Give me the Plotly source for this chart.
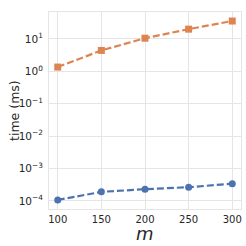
import plotly.graph_objects as go
import numpy as np

m_vals = [100, 150, 200, 250, 300]
time_blue = [1.07e-4, 1.9e-4, 2.3e-4, 2.64e-4, 3.4e-4]
time_orange = [1.35, 4.4, 10.5, 20.0, 35.6]
x_ticks = [100, 150, 200, 250, 300]
y_tickvals = [1e-4, 1e-3, 1e-2, 1e-1, 1e0, 1e1]
y_ticktext = ["10<sup>−4</sup>", "10<sup>−3</sup>", "10<sup>−2</sup>", "10<sup>−1</sup>", "10<sup>0</sup>", "10<sup>1</sup>"]

fig = go.Figure()
fig.add_trace(go.Scatter(x=m_vals, y=time_blue, mode="lines+markers",
                         line=dict(color="#4c72b0", dash="7px,3px", width=2.2),
                         marker=dict(symbol="circle", size=7, color="#4c72b0")))
fig.add_trace(go.Scatter(x=m_vals, y=time_orange, mode="lines+markers",
                         line=dict(color="#dd8452", dash="7px,3px", width=2.2),
                         marker=dict(symbol="square", size=7, color="#dd8452")))

fig.update_layout(
    width=246, height=246,
    margin=dict(l=49, r=5, t=12, b=37, autoexpand=False),
    paper_bgcolor="white", plot_bgcolor="white",
    showlegend=False,
    font=dict(family="DejaVu Sans", color="#262626", size=10),
    annotations=[
        dict(text="<i>m</i>", x=0.5, y=-0.125, xref="paper", yref="paper",
             xanchor="center", yanchor="middle", showarrow=False, font=dict(size=18)),
        dict(text="time (ms)", x=-0.18, y=0.5, xref="paper", yref="paper",
             xanchor="center", yanchor="middle", textangle=-90, showarrow=False,
             font=dict(size=12.5)),
    ],
)
fig.update_xaxes(range=[90, 310], tickvals=x_ticks, showgrid=True, gridcolor="#e5e5e5",
                 showline=True, linecolor="#e5e5e5", mirror=True, ticks="", zeroline=False,
                 automargin=False, ticklabelstandoff=1, tickfont=dict(size=10))
fig.update_yaxes(type="log", range=[-4.25, 1.83], tickvals=y_tickvals, ticktext=y_ticktext,
                 showgrid=True, gridcolor="#e5e5e5", showline=True, linecolor="#e5e5e5",
                 mirror=True, ticks="", zeroline=False, automargin=False, ticklabelstandoff=3,
                 tickfont=dict(size=10.5))

fig.write_html("out.html", config={"displayModeBar": False},
               post_script="document.body.style.margin='0';")
